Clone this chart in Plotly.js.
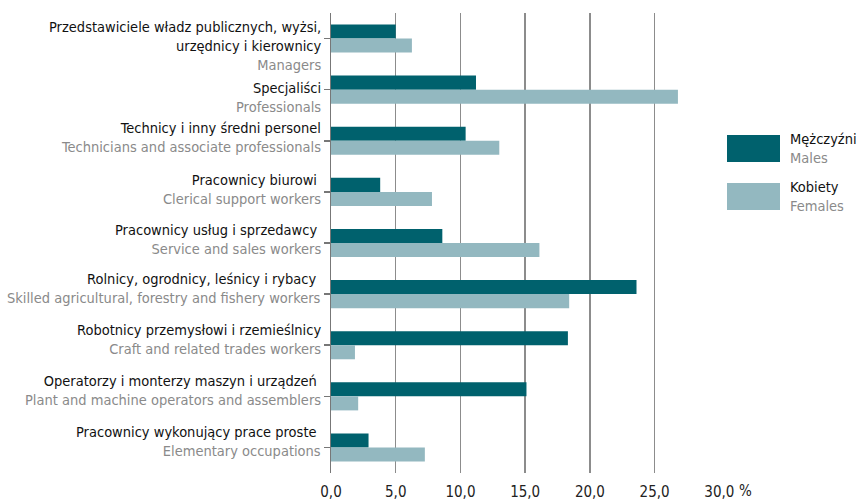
<!DOCTYPE html>
<html>
<head>
<meta charset="utf-8">
<script src="https://cdn.plot.ly/plotly-3.0.1.min.js"></script>
<style>html,body{margin:0;padding:0;background:#fff;}#chart{width:856px;height:500px;}</style>
</head>
<body>
<div id="chart"></div>
<script>
var categoriesPL = [
  "Przedstawiciele władz publicznych, wyżsi,<br>urzędnicy i kierownicy",
  "Specjaliści",
  "Technicy i inny średni personel",
  "Pracownicy biurowi ",
  "Pracownicy usług i sprzedawcy ",
  "Rolnicy, ogrodnicy, leśnicy i rybacy ",
  "Robotnicy przemysłowi i rzemieślnicy",
  "Operatorzy i monterzy maszyn i urządzeń ",
  "Pracownicy wykonujący prace proste "
];
var categoriesEN = [
  "Managers",
  "Professionals",
  "Technicians and associate professionals",
  "Clerical support workers",
  "Service and sales workers",
  "Skilled agricultural, forestry and fishery workers",
  "Craft and related trades workers",
  "Plant and machine operators and assemblers",
  "Elementary occupations"
];
var males = [5.0, 11.2, 10.4, 3.8, 8.6, 23.6, 18.3, 15.1, 2.9];
var females = [6.25, 26.8, 13.0, 7.8, 16.1, 18.4, 1.85, 2.1, 7.25];
var xTickVals = [0, 5, 10, 15, 20, 25, 30];
var xTickText = ["0,0", "5,0", "10,0", "15,0", "20,0", "25,0", "30,0"];
var seriesPL = ["Mężczyźni", "Kobiety"];
var seriesEN = ["Males", "Females"];

// label vertical offsets (px, layout only)
var labelShift = [-7.5, -8, 3, 2, 4, 5.5, 6, 6, 5.5];

var cMale = "#00616d", cFemale = "#93b8c0", cGrey = "#8a8a8a";
var FONT = "'Liberation Sans Narrow', 'DejaVu Sans Condensed', 'Roboto Condensed', sans-serif";

var ids = categoriesPL.map(function(_, i){ return i; });

var traces = [
  {type: "bar", orientation: "h", x: males, y: ids, name: seriesPL[0], marker: {color: cMale}, hoverinfo: "x"},
  {type: "bar", orientation: "h", x: females, y: ids, name: seriesPL[1], marker: {color: cFemale}, hoverinfo: "x"}
];

var shapes = [], annotations = [];
categoriesPL.forEach(function(p, i){
  annotations.push({xref: "paper", yref: "y", x: 0, y: ids[i], xshift: -8, yshift: labelShift[i],
    xanchor: "right", yanchor: "middle", align: "right", showarrow: false,
    text: p + "<br><span style='color:" + cGrey + "'>" + categoriesEN[i] + "</span>",
    font: {family: FONT, size: 14.5, color: "#111"}});
});
var legendTop = [135, 183];
[cMale, cFemale].forEach(function(c, i){
  var top = legendTop[i];
  shapes.push({type: "rect", xref: "paper", yref: "paper",
    x0: (727 - 331) / 389, x1: (780 - 331) / 389,
    y0: (473 - (top + 27)) / 460, y1: (473 - top) / 460,
    fillcolor: c, line: {width: 0}});
  annotations.push({xref: "paper", yref: "paper", x: (788 - 331) / 389, y: (473 - (top + 13)) / 460,
    xanchor: "left", yanchor: "middle", align: "left", showarrow: false,
    text: seriesPL[i] + "<br><span style='color:" + cGrey + "'>" + seriesEN[i] + "</span>",
    font: {family: FONT, size: 14.5, color: "#111"}});
});
annotations.push({xref: "paper", yref: "paper", x: (737 - 331) / 389, y: 0, yshift: -18,
  xanchor: "left", yanchor: "middle", showarrow: false, text: "%",
  font: {family: FONT, size: 15, color: "#222"}});

var layout = {
  width: 856, height: 500,
  margin: {l: 331, r: 136, t: 13, b: 27},
  paper_bgcolor: "#fff", plot_bgcolor: "#fff",
  showlegend: false,
  barmode: "group", bargap: 0.45, bargroupgap: 0,
  font: {family: FONT, size: 14, color: "#111"},
  xaxis: {range: [0, 30.05], tickvals: xTickVals, ticktext: xTickText,
    showgrid: true, gridcolor: "#8c8c8c", gridwidth: 1.5, zeroline: false,
    showline: false, ticks: "outside", ticklen: 5, tickcolor: "rgba(0,0,0,0)",
    tickfont: {family: FONT, size: 15, color: "#222"}},
  yaxis: {range: [8.5, -0.5], tickvals: ids, showticklabels: false, tickson: "boundaries",
    ticks: "outside", ticklen: 6, tickcolor: "#777", tickwidth: 1.5,
    showline: true, linecolor: "#777", linewidth: 1.5, showgrid: false, zeroline: false},
  shapes: shapes, annotations: annotations
};

Plotly.newPlot("chart", traces, layout, {displayModeBar: false, staticPlot: true});
</script>
</body>
</html>
